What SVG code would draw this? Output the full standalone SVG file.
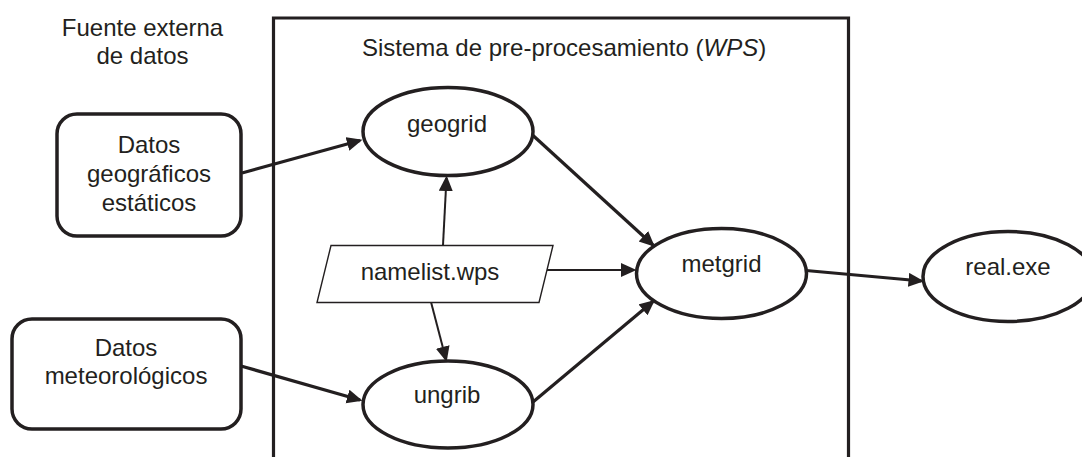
<svg xmlns="http://www.w3.org/2000/svg" width="1082" height="457" viewBox="0 0 1082 457">
<style>
text{font-family:"Liberation Sans",Arial,Helvetica,sans-serif;font-size:24px;fill:#231f20}
.c{text-anchor:middle}
.node{fill:#fff;stroke:#231f20;stroke-width:3.5}
.para{fill:#fff;stroke:#231f20;stroke-width:1.4}
.frame{fill:none;stroke:#231f20;stroke-width:3.2}
.thick{fill:none;stroke:#231f20;stroke-width:3.2;marker-end:url(#ah)}
.thin{fill:none;stroke:#231f20;stroke-width:2;marker-end:url(#ah)}
</style>
<defs>
<marker id="ah" markerUnits="userSpaceOnUse" markerWidth="18" markerHeight="15" refX="13" refY="7" orient="auto">
<path d="M0,0 L15.5,7 L0,14 z" fill="#231f20"/>
</marker>
</defs>
<rect width="1082" height="457" fill="#fff"/>
<g id="frame">
<path class="frame" d="M273.5,460 V18 H848.5 V460"/>
<text x="362" y="56">Sistema de pre-procesamiento (<tspan font-style="italic">WPS</tspan>)</text>
</g>
<g id="label-fuente">
<text class="c" x="142.5" y="36">Fuente externa</text>
<text class="c" x="142.5" y="64">de datos</text>
</g>
<g id="connectors">
<line class="thick" x1="242" y1="173" x2="360" y2="140.5"/>
<line class="thick" x1="241" y1="366" x2="360" y2="400"/>
<line class="thin" x1="443" y1="245" x2="446.5" y2="178"/>
<line class="thin" x1="431" y1="302" x2="446" y2="359.5"/>
<line class="thin" x1="547" y1="270" x2="634" y2="270"/>
<line class="thick" x1="532.5" y1="135" x2="653" y2="245"/>
<line class="thick" x1="533" y1="402" x2="653" y2="301.5"/>
<line class="thick" x1="806" y1="270.5" x2="921.5" y2="281"/>
</g>
<g id="datos-geo">
<rect class="node" x="57" y="114" width="184" height="122" rx="20"/>
<text class="c" x="149" y="153">Datos</text>
<text class="c" x="149" y="182">geográficos</text>
<text class="c" x="149" y="210.5">estáticos</text>
</g>
<g id="datos-met">
<rect class="node" x="12" y="319" width="229" height="110" rx="20"/>
<text class="c" x="126" y="356">Datos</text>
<text class="c" x="126" y="384">meteorológicos</text>
</g>
<g id="geogrid">
<ellipse class="node" cx="448" cy="131.5" rx="85" ry="44"/>
<text class="c" x="447" y="131.5">geogrid</text>
</g>
<g id="namelist">
<polygon class="para" points="331,245.5 553,245.5 539,302.5 317,302.5"/>
<text class="c" x="430" y="280">namelist.wps</text>
</g>
<g id="ungrib">
<ellipse class="node" cx="448" cy="404.5" rx="85" ry="43.5"/>
<text class="c" x="447" y="403">ungrib</text>
</g>
<g id="metgrid">
<ellipse class="node" cx="721.5" cy="273.5" rx="85" ry="45"/>
<text class="c" x="721.5" y="271.5">metgrid</text>
</g>
<g id="real">
<ellipse class="node" cx="1008" cy="276.5" rx="85" ry="45"/>
<text class="c" x="1008" y="275">real.exe</text>
</g>
</svg>
